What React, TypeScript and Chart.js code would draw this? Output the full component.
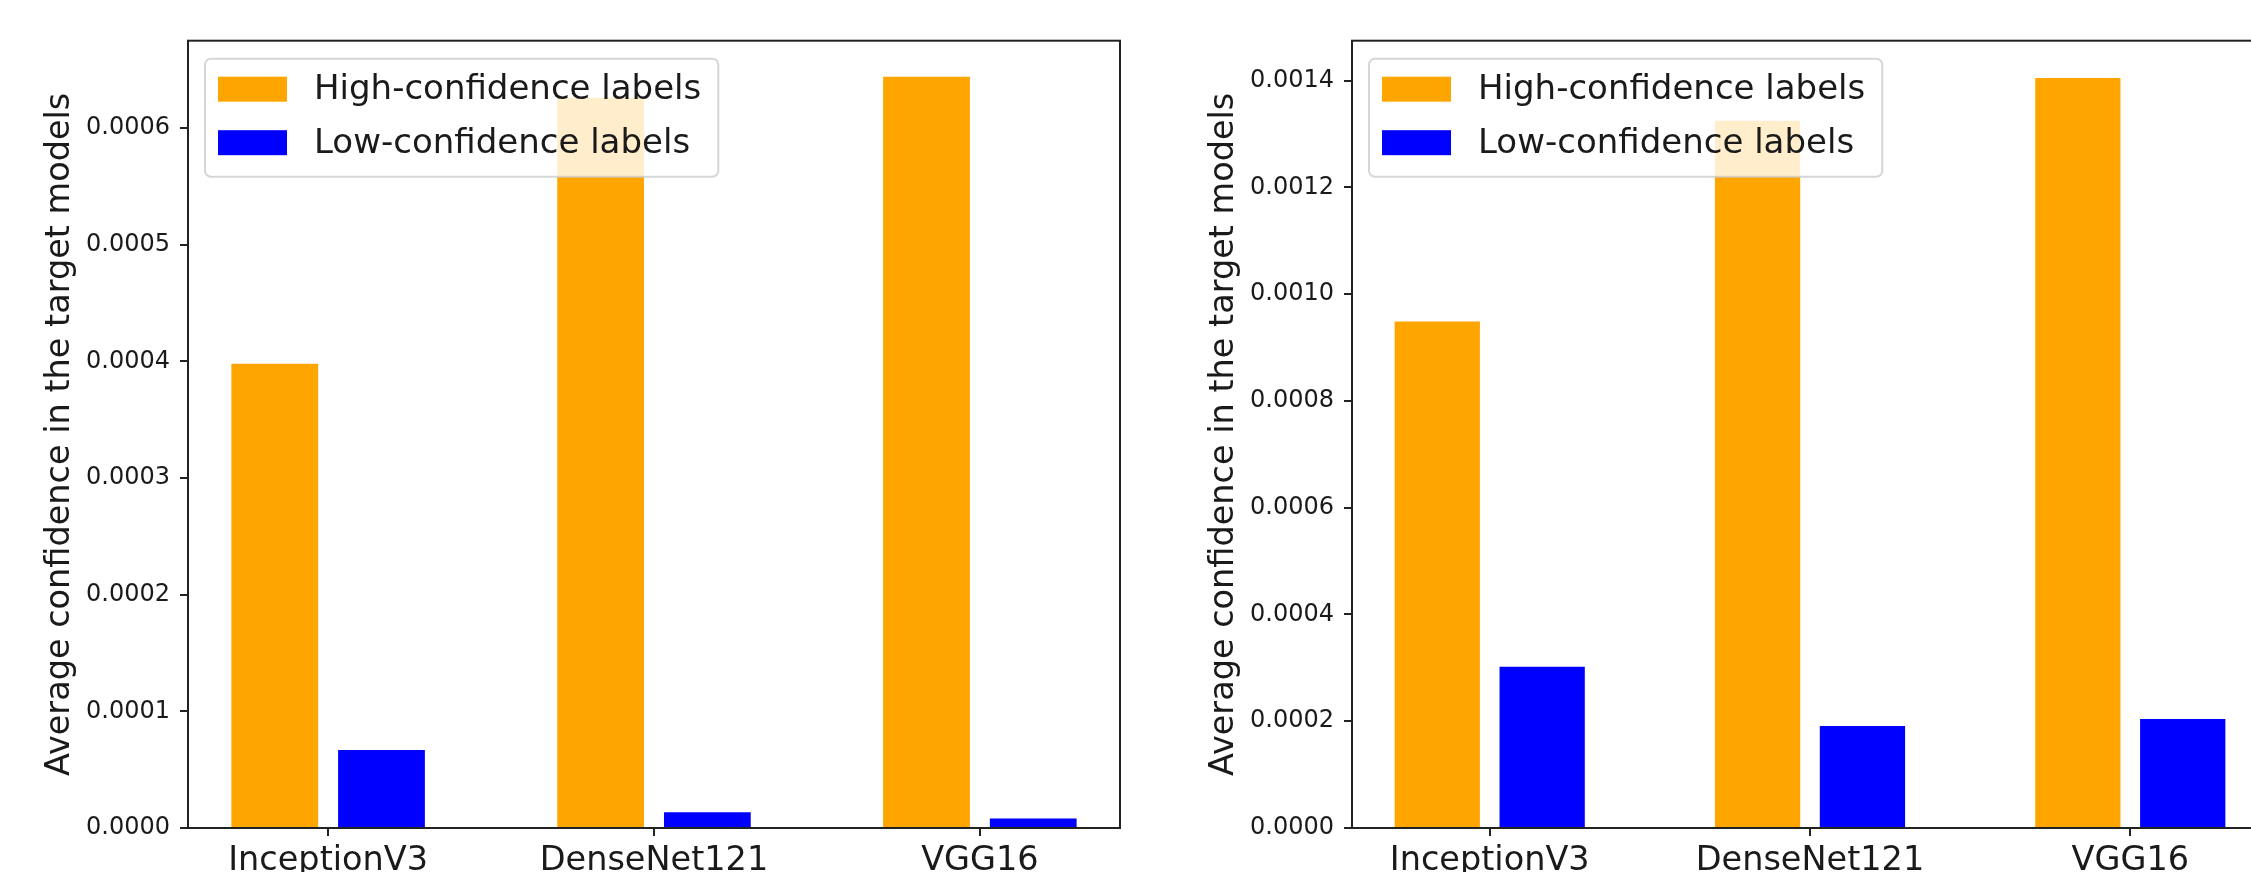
import React, { useEffect, useRef } from "react";
import { Chart, registerables } from "chart.js";

Chart.register(...registerables);

const categories = ["InceptionV3", "DenseNet121", "VGG16"];
const seriesNames = ["High-confidence labels", "Low-confidence labels"];
const seriesColors = ["#FFA500", "#0000FF"];

const leftHigh = [0.000398, 0.000626, 0.000644];
const leftLow = [0.0000668, 0.0000134, 0.0000082];
const rightHigh = [0.000949, 0.001325, 0.001405];
const rightLow = [0.000302, 0.000191, 0.000204];

const leftTicks = [0, 0.0001, 0.0002, 0.0003, 0.0004, 0.0005, 0.0006];
const rightTicks = [0, 0.0002, 0.0004, 0.0006, 0.0008, 0.001, 0.0012, 0.0014];

const yTitle = "Average confidence in the target models";
const FONT = "DejaVu Sans";

const framePlugin = {
  id: "frameAndLegend",
  afterDatasetsDraw(chart: any) {
    const { ctx, chartArea } = chart;
    ctx.save();
    // frame
    ctx.strokeStyle = "#222";
    ctx.lineWidth = 2;
    ctx.strokeRect(
      chartArea.left,
      chartArea.top,
      chartArea.right - chartArea.left,
      chartArea.bottom - chartArea.top
    );
    // legend
    ctx.font = `34px "${FONT}"`;
    const tw = Math.max(...seriesNames.map((n) => ctx.measureText(n).width));
    const x0 = chartArea.left + 17;
    const y0 = chartArea.top + 18;
    const w = 13 + 69 + 27 + tw + 17;
    const h = 118;
    const r = 6;
    ctx.beginPath();
    ctx.moveTo(x0 + r, y0);
    ctx.lineTo(x0 + w - r, y0);
    ctx.arcTo(x0 + w, y0, x0 + w, y0 + r, r);
    ctx.lineTo(x0 + w, y0 + h - r);
    ctx.arcTo(x0 + w, y0 + h, x0 + w - r, y0 + h, r);
    ctx.lineTo(x0 + r, y0 + h);
    ctx.arcTo(x0, y0 + h, x0, y0 + h - r, r);
    ctx.lineTo(x0, y0 + r);
    ctx.arcTo(x0, y0, x0 + r, y0, r);
    ctx.closePath();
    ctx.fillStyle = "rgba(255,255,255,0.8)";
    ctx.fill();
    ctx.strokeStyle = "rgba(204,204,204,0.8)";
    ctx.lineWidth = 2;
    ctx.stroke();
    const rows = [y0 + 30.5, y0 + 84];
    seriesNames.forEach((name, i) => {
      const cy = rows[i];
      ctx.fillStyle = seriesColors[i];
      ctx.fillRect(x0 + 13, cy - 12.5, 69, 25);
      ctx.fillStyle = "#1a1a1a";
      ctx.textBaseline = "middle";
      ctx.textAlign = "left";
      ctx.fillText(name, x0 + 109, cy + 1);
    });
    ctx.restore();
  },
};

function makeConfig(high: number[], low: number[], ticks: number[], yMax: number, padRight: number) {
  const series = [high, low];
  return {
    type: "bar",
    data: {
      datasets: series.map((vals, s) => ({
        label: seriesNames[s],
        data: vals.map((v, i) => ({ x: i, y: v })),
        backgroundColor: seriesColors[s],
        borderWidth: 0,
        categoryPercentage: 0.655,
        barPercentage: 0.813,
      })),
    },
    options: {
      animation: false,
      responsive: false,
      layout: { padding: { top: 40.7, right: padRight, left: 0, bottom: 0 } },
      plugins: { legend: { display: false }, tooltip: { enabled: false } },
      scales: {
        x: {
          type: "linear",
          min: -0.43,
          max: 2.43,
          offset: false,
          afterBuildTicks: (s: any) => {
            s.ticks = categories.map((_, i) => ({ value: i }));
          },
          afterFit: (s: any) => {
            s.height = 44;
          },
          ticks: {
            callback: (v: any) => categories[Math.round(Number(v))] ?? "",
            font: { family: FONT, size: 33.5 },
            color: "#1a1a1a",
            padding: 5,
            maxRotation: 0,
            autoSkip: false,
          },
          grid: {
            offset: false,
            drawOnChartArea: false,
            drawTicks: true,
            tickLength: 8,
            color: "#222",
            lineWidth: 2,
          },
          border: { display: false },
        },
        y: {
          min: 0,
          max: yMax,
          afterBuildTicks: (s: any) => {
            s.ticks = ticks.map((v) => ({ value: v }));
          },
          afterFit: (s: any) => {
            s.width = 188;
          },
          ticks: {
            callback: (v: any) => Number(v).toFixed(4),
            font: { family: FONT, size: 24 },
            color: "#1a1a1a",
            padding: 10,
          },
          grid: {
            drawOnChartArea: false,
            drawTicks: true,
            tickLength: 8,
            color: "#222",
            lineWidth: 2,
          },
          border: { display: false },
          title: {
            display: true,
            text: yTitle,
            font: { family: FONT, size: 33.5 },
            color: "#1a1a1a",
            padding: { top: 40, bottom: 0 },
          },
        },
      },
    },
    plugins: [framePlugin],
  } as any;
}

function Panel(props: { high: number[]; low: number[]; ticks: number[]; yMax: number; padRight: number; left: number }) {
  const ref = useRef<HTMLCanvasElement | null>(null);
  useEffect(() => {
    if (!ref.current) return;
    const chart = new Chart(ref.current, makeConfig(props.high, props.low, props.ticks, props.yMax, props.padRight));
    return () => chart.destroy();
  }, []);
  return (
    <canvas
      ref={ref}
      width={1164}
      height={872}
      style={{ position: "absolute", left: props.left, top: 0, width: 1164, height: 872 }}
    />
  );
}

export default function App() {
  useEffect(() => {
    document.body.style.margin = "0";
    document.body.style.overflow = "hidden";
    document.documentElement.style.overflow = "hidden";
  }, []);
  return (
    <div
      style={{
        position: "absolute",
        left: 0,
        top: 0,
        width: 2251,
        height: 872,
        overflow: "hidden",
        background: "#ffffff",
      }}
    >
      <Panel high={leftHigh} low={leftLow} ticks={leftTicks} yMax={0.000675} padRight={44} left={0} />
      <Panel high={rightHigh} low={rightLow} ticks={rightTicks} yMax={0.001475} padRight={60} left={1164} />
    </div>
  );
}
